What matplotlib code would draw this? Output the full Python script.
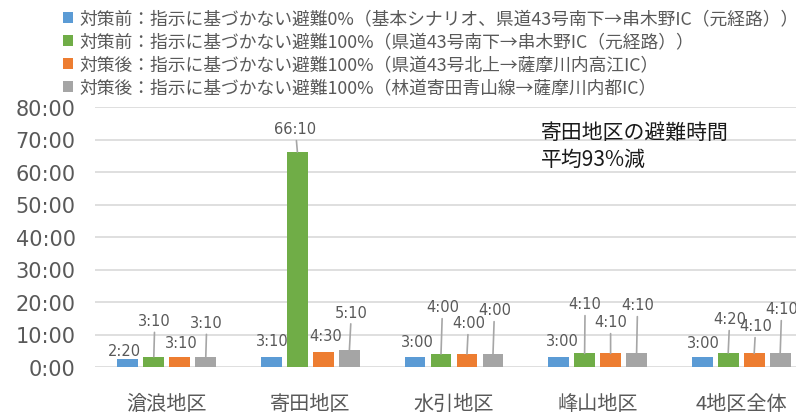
import numpy as np
import matplotlib
matplotlib.use("Agg")
from matplotlib import pyplot as plt
from matplotlib.patches import Patch

plt.rcParams['font.family'] = ['DejaVu Sans', 'Noto Sans CJK JP']

districts = ["滄浪地区", "寄田地区", "水引地区", "峰山地区", "4地区全体"]
series_names = [
    "対策前：指示に基づかない避難0%（基本シナリオ、県道43号南下→串木野IC（元経路））",
    "対策前：指示に基づかない避難100%（県道43号南下→串木野IC（元経路））",
    "対策後：指示に基づかない避難100%（県道43号北上→薩摩川内高江IC）",
    "対策後：指示に基づかない避難100%（林道寄田青山線→薩摩川内都IC）",
]
# evacuation times (min:sec), one list per series, in district order
before_0 = ["2:20", "3:10", "3:00", "3:00", "3:00"]
before_100 = ["3:10", "66:10", "4:00", "4:10", "4:20"]
after_north = ["3:10", "4:30", "4:00", "4:10", "4:10"]
after_forest = ["3:10", "5:10", "4:00", "4:10", "4:10"]
note_lines = ["寄田地区の避難時間", "平均93%減"]

colors = ["#5B9BD5", "#70AD47", "#ED7D31", "#A5A5A5"]
text_gray = "#595959"

# label placement: pixel offset of label centre from bar top, per series/district
label_offsets = [
    [(-3, 9), (1, 16), (2.5, 16), (3.5, 17), (1.5, 15)],
    [(1, 36), (-2, 23), (1.5, 47), (0.5, 49.5), (1.5, 34)],
    [(1.5, 14), (2, 17), (1.5, 31), (0, 31.5), (1.5, 27.5)],
    [(1, 34), (2, 38), (1.5, 44), (1, 48.5), (1.5, 44.5)],
]
leaders = [
    [False, False, False, False, False],
    [True, True, True, True, True],
    [False, False, True, True, True],
    [True, True, True, True, True],
]


def to_minutes(s):
    m, sec = s.split(":")
    return int(m) + int(sec) / 60


series = [before_0, before_100, after_north, after_forest]

fig = plt.figure(figsize=(7.96, 4.14), dpi=100)
ax = fig.add_axes([95 / 796, 1 - 368 / 414, 718 / 796, 260 / 414])

x = np.arange(len(districts))
pitch = 0.181
width = 0.146
for i, (vals, col) in enumerate(zip(series, colors)):
    h = np.array([to_minutes(v) for v in vals])
    xs = x + (i - 1.5) * pitch
    ax.bar(xs, h, width, color=col, zorder=3)
    for j in range(len(districts)):
        dx, dy = label_offsets[i][j]
        arrow = None
        if leaders[i][j]:
            arrow = dict(arrowstyle="-", color="#A6A6A6", lw=1.2,
                         shrinkA=1, shrinkB=0)
        ax.annotate(vals[j], xy=(xs[j], h[j]), xytext=(dx, dy),
                    textcoords="offset pixels", ha="center", va="center",
                    fontsize=10.5, color=text_gray, arrowprops=arrow,
                    annotation_clip=False)

ax.set_xlim(-0.5, len(districts) - 0.5)
ax.set_ylim(0, 80)
ax.set_yticks(range(0, 81, 10))
ax.set_yticklabels([f"{v}:00" for v in range(0, 81, 10)])
ax.set_xticks(x)
ax.set_xticklabels(districts, family=['Noto Sans CJK JP'])
ax.tick_params(axis="y", length=0, pad=14, labelsize=15, labelcolor=text_gray)
ax.tick_params(axis="x", length=0, pad=19, labelsize=14.5, labelcolor=text_gray)
ax.grid(axis="y", color="#D9D9D9", lw=1.2, zorder=0)
for s in ax.spines.values():
    s.set_visible(False)

handles = [Patch(facecolor=c, edgecolor="none") for c in colors]
fig.legend(handles, series_names, loc="upper left", bbox_to_anchor=(52 / 796, 1.0),
           frameon=False, handlelength=0.6, handleheight=0.6,
           handletextpad=0.35, labelspacing=0.28, borderaxespad=0.2,
           prop={'family': ['Noto Sans CJK JP'], 'size': 12.8},
           labelcolor=text_gray)

fig.text(541 / 796, 1 - 133 / 414, note_lines[0], fontsize=15, va="center",
         family=['Noto Sans CJK JP'], color="#1a1a1a")
fig.text(541 / 796, 1 - 160 / 414, note_lines[1], fontsize=15, va="center",
         family=['Noto Sans CJK JP'], color="#1a1a1a")

fig.savefig("out.png", dpi=100)
